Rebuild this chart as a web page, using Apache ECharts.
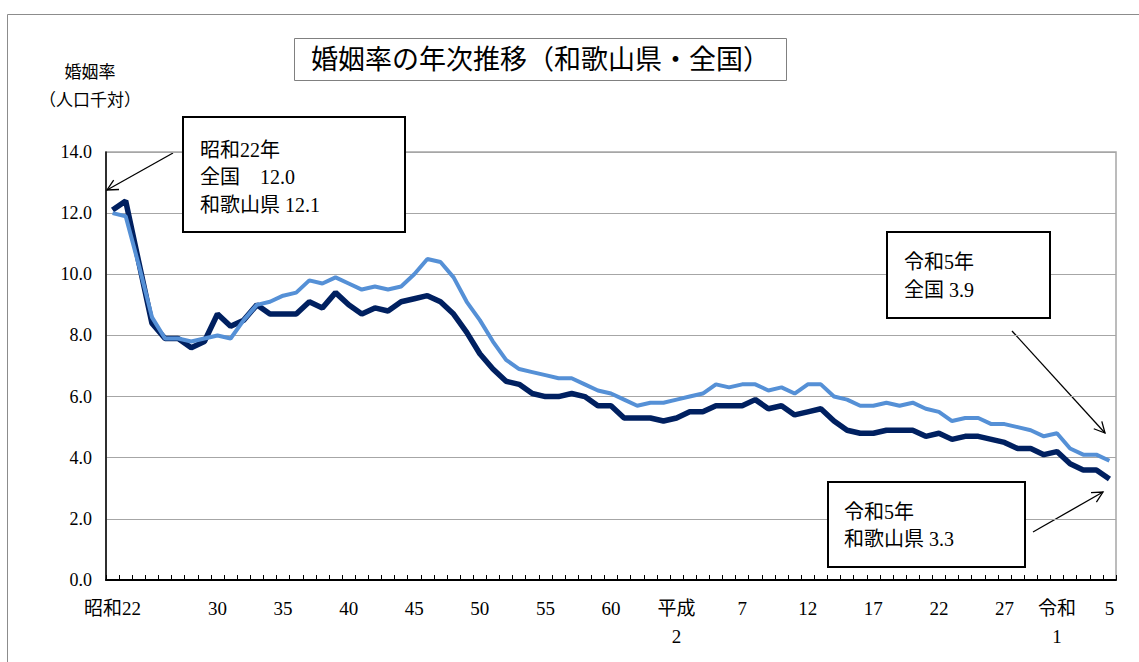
<!DOCTYPE html>
<html>
<head>
<meta charset="utf-8">
<script src="https://cdn.jsdelivr.net/npm/echarts@6/dist/echarts.min.js"></script>
<style>
html,body{margin:0;padding:0;background:#fff;}
#chart{width:1139px;height:662px;}
</style>
</head>
<body>
<div id="chart"></div>
<script>
// ---- data ----
const categories = [
  "昭和22","昭和23","昭和24","昭和25","昭和26","昭和27","昭和28","昭和29","昭和30","昭和31",
  "昭和32","昭和33","昭和34","昭和35","昭和36","昭和37","昭和38","昭和39","昭和40","昭和41",
  "昭和42","昭和43","昭和44","昭和45","昭和46","昭和47","昭和48","昭和49","昭和50","昭和51",
  "昭和52","昭和53","昭和54","昭和55","昭和56","昭和57","昭和58","昭和59","昭和60","昭和61",
  "昭和62","昭和63","平成元","平成2","平成3","平成4","平成5","平成6","平成7","平成8",
  "平成9","平成10","平成11","平成12","平成13","平成14","平成15","平成16","平成17","平成18",
  "平成19","平成20","平成21","平成22","平成23","平成24","平成25","平成26","平成27","平成28",
  "平成29","平成30","令和元","令和2","令和3","令和4","令和5"
];
const zenkoku = [
  12.0,11.9,10.3,8.6,7.9,7.9,7.8,7.9,8.0,7.9,
  8.5,9.0,9.1,9.3,9.4,9.8,9.7,9.9,9.7,9.5,
  9.6,9.5,9.6,10.0,10.5,10.4,9.9,9.1,8.5,7.8,
  7.2,6.9,6.8,6.7,6.6,6.6,6.4,6.2,6.1,5.9,
  5.7,5.8,5.8,5.9,6.0,6.1,6.4,6.3,6.4,6.4,
  6.2,6.3,6.1,6.4,6.4,6.0,5.9,5.7,5.7,5.8,
  5.7,5.8,5.6,5.5,5.2,5.3,5.3,5.1,5.1,5.0,
  4.9,4.7,4.8,4.3,4.1,4.1,3.9
];
const wakayama = [
  12.1,12.4,10.4,8.4,7.9,7.9,7.6,7.8,8.7,8.3,
  8.5,9.0,8.7,8.7,8.7,9.1,8.9,9.4,9.0,8.7,
  8.9,8.8,9.1,9.2,9.3,9.1,8.7,8.1,7.4,6.9,
  6.5,6.4,6.1,6.0,6.0,6.1,6.0,5.7,5.7,5.3,
  5.3,5.3,5.2,5.3,5.5,5.5,5.7,5.7,5.7,5.9,
  5.6,5.7,5.4,5.5,5.6,5.2,4.9,4.8,4.8,4.9,
  4.9,4.9,4.7,4.8,4.6,4.7,4.7,4.6,4.5,4.3,
  4.3,4.1,4.2,3.8,3.6,3.6,3.3
];
const labelIdx  = [0,8,13,18,23,28,33,38,43,48,53,58,63,68,72,76];
const labelText = ["昭和22","30","35","40","45","50","55","60","平成\n2","7","12","17","22","27","令和\n1","5"];
const yTicks = [0,2,4,6,8,10,12,14];

// ---- styling ----
const FONT = "'Liberation Serif','Noto Sans CJK JP',serif";
const LIGHT = '#5590d6';
const DARK = '#002060';

function arrow(x1,y1,x2,y2){
  const a = Math.atan2(y1-y2, x1-x2), L = 12, t = 0.47;
  return [
    {type:'line', shape:{x1:x1,y1:y1,x2:x2,y2:y2}, style:{stroke:'#000', lineWidth:1.3}},
    {type:'polyline', shape:{points:[[x2+L*Math.cos(a+t), y2+L*Math.sin(a+t)],[x2,y2],[x2+L*Math.cos(a-t), y2+L*Math.sin(a-t)]]},
     style:{stroke:'#000', lineWidth:1.3, fill:null}}
  ];
}
function box(x,y,w,h){
  return {type:'rect', shape:{x:x,y:y,width:w,height:h}, style:{fill:'#fff', stroke:'#000', lineWidth:2}, z:100};
}
function txt(x,y,text,size,lh,align){
  return {type:'text', x:x, y:y, z:101,
    style:{text:text, fontSize:size, fontFamily:FONT, fill:'#000', lineHeight:lh, align:align||'left', verticalAlign:'top'}};
}

const chart = echarts.init(document.getElementById('chart'), null, {renderer:'svg'});
chart.setOption({
  animation:false,
  backgroundColor:'#fff',
  title:{
    text:'婚姻率の年次推移（和歌山県・全国）',
    left:294, top:38, padding:[8,17],
    borderColor:'#808080', borderWidth:1,
    textStyle:{fontSize:27, fontWeight:'normal', fontFamily:FONT, color:'#000'}
  },
  grid:{left:106, top:152, right:23, bottom:82, show:true, borderColor:'#a6a6a6', borderWidth:1.5, backgroundColor:'transparent'},
  xAxis:{
    type:'category', data:categories, boundaryGap:true,
    axisLine:{show:true, lineStyle:{color:'#000', width:2}},
    axisTick:{show:true, inside:true, length:5, interval:0, lineStyle:{color:'#000', width:1}},
    axisLabel:{
      interval:function(i){ return labelIdx.indexOf(i) >= 0; },
      formatter:function(v,i){ const k = labelIdx.indexOf(i); return k >= 0 ? labelText[k] : ''; },
      fontSize:19, fontFamily:FONT, color:'#000', margin:14, lineHeight:28, align:'center'
    },
    splitLine:{show:false}
  },
  yAxis:{
    type:'value', min:yTicks[0], max:yTicks[yTicks.length-1], interval:2,
    axisLine:{show:true, lineStyle:{color:'#000', width:1.5}},
    axisTick:{show:false},
    axisLabel:{formatter:function(v){ return v.toFixed(1); }, fontSize:18, fontFamily:FONT, color:'#000', margin:14},
    splitLine:{show:true, lineStyle:{color:'#a6a6a6', width:1}}
  },
  series:[
    {name:'和歌山県', type:'line', data:wakayama, symbol:'none', smooth:false,
     lineStyle:{color:DARK, width:5.5}, itemStyle:{color:DARK}, z:2},
    {name:'全国', type:'line', data:zenkoku, symbol:'none', smooth:false,
     lineStyle:{color:LIGHT, width:4}, itemStyle:{color:LIGHT}, z:3}
  ],
  graphic:{elements:[
    {type:'rect', shape:{x:7.5,y:14.5,width:1140,height:660}, style:{fill:null, stroke:'#8c8c8c', lineWidth:1}, z:-10},
    txt(90,62,'婚姻率',17,20,'center'),
    txt(90,90,'（人口千対）',17,20,'center'),
    box(183,117,222,115),
    txt(200,136,'昭和22年\n全国　12.0\n和歌山県 12.1',20,27.5),
    ...arrow(173,153,107,190),
    box(887,232,163,86),
    txt(904,248,'令和5年\n全国 3.9',20,28),
    ...arrow(1012,331,1105,433),
    box(828,482,197,85),
    txt(844,499,'令和5年\n和歌山県 3.3',20,26.5),
    ...arrow(1033,532,1103,492)
  ]}
});
</script>
</body>
</html>
